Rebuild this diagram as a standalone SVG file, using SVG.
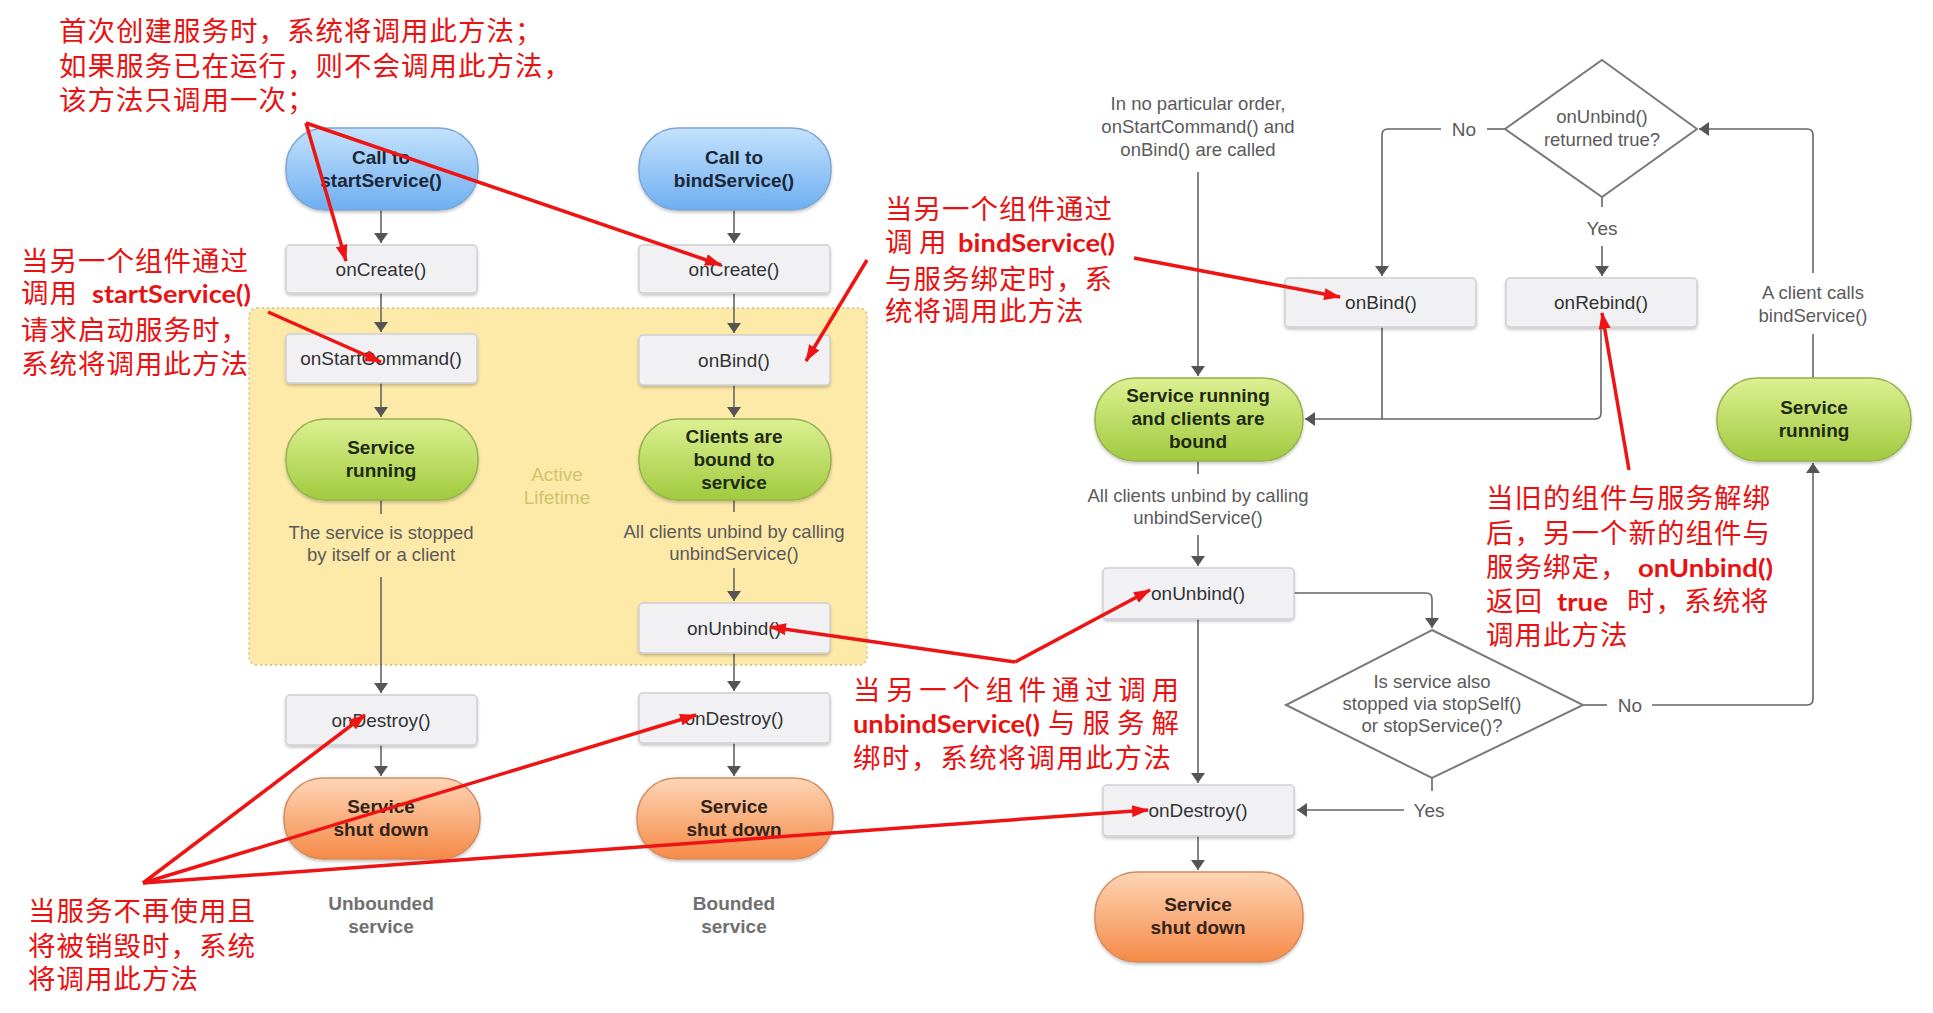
<svg xmlns="http://www.w3.org/2000/svg" width="1933" height="1013" viewBox="0 0 1933 1013">
<defs>
<linearGradient id="gBlue" x1="0" y1="0" x2="0" y2="1"><stop offset="0" stop-color="#c4e2fc"/><stop offset="1" stop-color="#6eaef1"/></linearGradient>
<linearGradient id="gGreen" x1="0" y1="0" x2="0" y2="1"><stop offset="0" stop-color="#ddf092"/><stop offset="1" stop-color="#a0ca3e"/></linearGradient>
<linearGradient id="gOrange" x1="0" y1="0" x2="0" y2="1"><stop offset="0" stop-color="#fed5b6"/><stop offset="1" stop-color="#f58a47"/></linearGradient>
<filter id="sh" x="-10%" y="-15%" width="120%" height="140%"><feDropShadow dx="0" dy="2" stdDeviation="1.5" flood-color="#000" flood-opacity="0.22"/></filter>
<marker id="ga" viewBox="0 0 10 14" refX="10" refY="7" markerWidth="10" markerHeight="14" markerUnits="userSpaceOnUse" orient="auto"><path d="M0,0 L10,7 L0,14 z" fill="#555"/></marker>
<marker id="ra" viewBox="0 0 17 12" refX="16" refY="6" markerWidth="17" markerHeight="12" markerUnits="userSpaceOnUse" orient="auto"><path d="M0,0 L17,6 L0,12 z" fill="#ee1414"/></marker>
</defs>
<style>
.box{fill:#f1f1f3;stroke:#cfcfd3;stroke-width:1.5}
.pill{stroke-width:1.5}
.lbl{font-family:"Liberation Sans",Arial,sans-serif;font-size:19px;fill:#333;text-anchor:middle}
.plbl{font-family:"Liberation Sans",Arial,sans-serif;font-size:19px;font-weight:bold;fill:#1f2a14;text-anchor:middle}
.desc{font-family:"Liberation Sans",Arial,sans-serif;font-size:18.5px;fill:#5a5a5a;text-anchor:middle}
.cap{font-family:"Liberation Sans",Arial,sans-serif;font-size:19px;font-weight:bold;fill:#707070;text-anchor:middle}
.dia{fill:#fff;stroke:#7a7a7a;stroke-width:2}
.ln{fill:none;stroke:#666;stroke-width:1.6}
.rl{fill:none;stroke:#ee1414;stroke-width:3.5}
.rt{font-family:"Noto Sans CJK SC",sans-serif;font-size:27.5px;letter-spacing:1px;fill:#e81212}
.rb{font-family:Lato,"Open Sans",sans-serif;font-weight:bold;font-size:25px;fill:#e81212}
</style>
<rect width="1933" height="1013" fill="#fff"/>

<g id="active-lifetime">
<rect x="249" y="308" width="618" height="357" rx="8" fill="#fde9a8" stroke="#cdbf86" stroke-width="1.5" stroke-dasharray="2 3"/>
<text x="557" y="481" class="desc" style="fill:#cfc46e;font-size:19px">Active</text>
<text x="557" y="504" class="desc" style="fill:#cfc46e;font-size:19px">Lifetime</text>
</g>

<g id="connectors">
<path class="ln" d="M381,210 V243" marker-end="url(#ga)"/>
<path class="ln" d="M381,293 V332" marker-end="url(#ga)"/>
<path class="ln" d="M381,383 V417" marker-end="url(#ga)"/>
<path class="ln" d="M381,500 V514"/>
<path class="ln" d="M381,577 V693" marker-end="url(#ga)"/>
<path class="ln" d="M381,745 V776" marker-end="url(#ga)"/>
<path class="ln" d="M734,210 V243" marker-end="url(#ga)"/>
<path class="ln" d="M734,293 V333" marker-end="url(#ga)"/>
<path class="ln" d="M734,385 V417" marker-end="url(#ga)"/>
<path class="ln" d="M734,500 V512"/>
<path class="ln" d="M734,568 V601" marker-end="url(#ga)"/>
<path class="ln" d="M734,653 V691" marker-end="url(#ga)"/>
<path class="ln" d="M734,743 V776" marker-end="url(#ga)"/>
<path class="ln" d="M1198,172 V376" marker-end="url(#ga)"/>
<path class="ln" d="M1198,461 V474"/>
<path class="ln" d="M1198,535 V566" marker-end="url(#ga)"/>
<path class="ln" d="M1198,619 V783" marker-end="url(#ga)"/>
<path class="ln" d="M1198,836 V870" marker-end="url(#ga)"/>
<path class="ln" d="M1294,593 H1426 Q1432,593 1432,599 V628" marker-end="url(#ga)"/>
<path class="ln" d="M1432,778 V791"/>
<path class="ln" d="M1404,810 H1297" marker-end="url(#ga)"/>
<path class="ln" d="M1583,705 H1607"/>
<path class="ln" d="M1652,705 H1807 Q1813,705 1813,699 V463" marker-end="url(#ga)"/>
<path class="ln" d="M1813,378 V334"/>
<path class="ln" d="M1813,273 V135 Q1813,129 1807,129 H1699" marker-end="url(#ga)"/>
<path class="ln" d="M1505,129 H1487"/>
<path class="ln" d="M1441,129 H1388 Q1382,129 1382,135 V276" marker-end="url(#ga)"/>
<path class="ln" d="M1602,197 V207"/>
<path class="ln" d="M1602,246 V276" marker-end="url(#ga)"/>
<path class="ln" d="M1382,327 V419"/>
<path class="ln" d="M1601,327 V413 Q1601,419 1595,419 H1305" marker-end="url(#ga)"/>
</g>

<g id="n-call-start"><rect class="pill" x="286" y="128" width="192" height="82" rx="39" fill="url(#gBlue)" stroke="#7ea6d4" filter="url(#sh)"/><text class="plbl" x="381" y="164" style="fill:#1b2736">Call to</text><text class="plbl" x="381" y="187" style="fill:#1b2736">startService()</text></g>
<g id="n-oncreate-1"><rect class="box" x="286" y="245" width="191" height="48" rx="4" filter="url(#sh)"/><text class="lbl" x="381" y="276">onCreate()</text></g>
<g id="n-onstartcommand"><rect class="box" x="286" y="334" width="191" height="49" rx="4" filter="url(#sh)"/><text class="lbl" x="381" y="365">onStartCommand()</text></g>
<g id="n-running-1"><rect class="pill" x="286" y="419" width="192" height="81" rx="39" fill="url(#gGreen)" stroke="#93b34f" filter="url(#sh)"/><text class="plbl" x="381" y="454">Service</text><text class="plbl" x="381" y="477">running</text></g>
<g id="t-stopped"><text class="desc" x="381" y="539">The service is stopped</text><text class="desc" x="381" y="561">by itself or a client</text></g>
<g id="n-ondestroy-1"><rect class="box" x="286" y="695" width="191" height="50" rx="4" filter="url(#sh)"/><text class="lbl" x="381" y="727">onDestroy()</text></g>
<g id="n-shut-1"><rect class="pill" x="284" y="778" width="196" height="81" rx="39" fill="url(#gOrange)" stroke="#d68b5f" filter="url(#sh)"/><text class="plbl" x="381" y="813" style="fill:#33231a">Service</text><text class="plbl" x="381" y="836" style="fill:#33231a">shut down</text></g>
<g id="t-unbounded"><text class="cap" x="381" y="910">Unbounded</text><text class="cap" x="381" y="933">service</text></g>

<g id="n-call-bind"><rect class="pill" x="639" y="128" width="192" height="82" rx="39" fill="url(#gBlue)" stroke="#7ea6d4" filter="url(#sh)"/><text class="plbl" x="734" y="164" style="fill:#1b2736">Call to</text><text class="plbl" x="734" y="187" style="fill:#1b2736">bindService()</text></g>
<g id="n-oncreate-2"><rect class="box" x="639" y="245" width="191" height="48" rx="4" filter="url(#sh)"/><text class="lbl" x="734" y="276">onCreate()</text></g>
<g id="n-onbind-1"><rect class="box" x="639" y="335" width="191" height="50" rx="4" filter="url(#sh)"/><text class="lbl" x="734" y="367">onBind()</text></g>
<g id="n-clients-bound"><rect class="pill" x="639" y="419" width="192" height="81" rx="39" fill="url(#gGreen)" stroke="#93b34f" filter="url(#sh)"/><text class="plbl" x="734" y="443">Clients are</text><text class="plbl" x="734" y="466">bound to</text><text class="plbl" x="734" y="489">service</text></g>
<g id="t-unbind-mid"><text class="desc" x="734" y="538">All clients unbind by calling</text><text class="desc" x="734" y="560">unbindService()</text></g>
<g id="n-onunbind-1"><rect class="box" x="639" y="603" width="191" height="50" rx="4" filter="url(#sh)"/><text class="lbl" x="734" y="635">onUnbind()</text></g>
<g id="n-ondestroy-2"><rect class="box" x="639" y="693" width="191" height="50" rx="4" filter="url(#sh)"/><text class="lbl" x="734" y="725">onDestroy()</text></g>
<g id="n-shut-2"><rect class="pill" x="637" y="778" width="196" height="81" rx="39" fill="url(#gOrange)" stroke="#d68b5f" filter="url(#sh)"/><text class="plbl" x="734" y="813" style="fill:#33231a">Service</text><text class="plbl" x="734" y="836" style="fill:#33231a">shut down</text></g>
<g id="t-bounded"><text class="cap" x="734" y="910">Bounded</text><text class="cap" x="734" y="933">service</text></g>

<g id="t-order"><text class="desc" x="1198" y="110">In no particular order,</text><text class="desc" x="1198" y="133">onStartCommand() and</text><text class="desc" x="1198" y="156">onBind() are called</text></g>
<g id="n-running-bound"><rect class="pill" x="1095" y="378" width="208" height="83" rx="40" fill="url(#gGreen)" stroke="#93b34f" filter="url(#sh)"/><text class="plbl" x="1198" y="402">Service running</text><text class="plbl" x="1198" y="425">and clients are</text><text class="plbl" x="1198" y="448">bound</text></g>
<g id="t-unbind-right"><text class="desc" x="1198" y="502">All clients unbind by calling</text><text class="desc" x="1198" y="524">unbindService()</text></g>
<g id="n-onunbind-2"><rect class="box" x="1103" y="568" width="191" height="51" rx="4" filter="url(#sh)"/><text class="lbl" x="1198" y="600">onUnbind()</text></g>
<g id="n-ondestroy-3"><rect class="box" x="1103" y="785" width="191" height="51" rx="4" filter="url(#sh)"/><text class="lbl" x="1198" y="817">onDestroy()</text></g>
<g id="n-shut-3"><rect class="pill" x="1095" y="872" width="208" height="90" rx="42" fill="url(#gOrange)" stroke="#d68b5f" filter="url(#sh)"/><text class="plbl" x="1198" y="911" style="fill:#33231a">Service</text><text class="plbl" x="1198" y="934" style="fill:#33231a">shut down</text></g>
<g id="n-returned-true"><polygon class="dia" points="1602,60 1697,129 1602,197 1505,129"/><text class="desc" x="1602" y="123">onUnbind()</text><text class="desc" x="1602" y="146">returned true?</text></g>
<g id="n-onbind-2"><rect class="box" x="1285" y="278" width="191" height="49" rx="4" filter="url(#sh)"/><text class="lbl" x="1381" y="309">onBind()</text></g>
<g id="n-onrebind"><rect class="box" x="1506" y="278" width="191" height="49" rx="4" filter="url(#sh)"/><text class="lbl" x="1601" y="309">onRebind()</text></g>
<g id="n-running-2"><rect class="pill" x="1717" y="378" width="194" height="83" rx="40" fill="url(#gGreen)" stroke="#93b34f" filter="url(#sh)"/><text class="plbl" x="1814" y="414">Service</text><text class="plbl" x="1814" y="437">running</text></g>
<g id="n-stopped-also"><polygon class="dia" points="1432,630 1583,705 1432,778 1286,705"/><text class="desc" x="1432" y="688">Is service also</text><text class="desc" x="1432" y="710">stopped via stopSelf()</text><text class="desc" x="1432" y="732">or stopService()?</text></g>
<g id="t-branch-labels">
<text class="desc" x="1464" y="136" style="font-size:19px">No</text>
<text class="desc" x="1602" y="235" style="font-size:19px">Yes</text>
<text class="desc" x="1813" y="299">A client calls</text>
<text class="desc" x="1813" y="322">bindService()</text>
<text class="desc" x="1630" y="712" style="font-size:19px">No</text>
<text class="desc" x="1429" y="817" style="font-size:19px">Yes</text>
</g>

<g id="red-arrows">
<path class="rl" d="M306,123 L346,261" marker-end="url(#ra)"/>
<path class="rl" d="M306,123 L721,265" marker-end="url(#ra)"/>
<path class="rl" d="M268,312 L381,362" marker-end="url(#ra)"/>
<path class="rl" d="M867,260 L806,361" marker-end="url(#ra)"/>
<path class="rl" d="M1134,258 L1340,297" marker-end="url(#ra)"/>
<path class="rl" d="M1629,470 L1602,313" marker-end="url(#ra)"/>
<path class="rl" d="M1015,662 L770,627" marker-end="url(#ra)"/>
<path class="rl" d="M1015,662 L1150,590" marker-end="url(#ra)"/>
<path class="rl" d="M143,883 L365,715" marker-end="url(#ra)"/>
<path class="rl" d="M143,883 L696,715" marker-end="url(#ra)"/>
<path class="rl" d="M143,883 L1148,810" marker-end="url(#ra)"/>
</g>

<g id="note-oncreate">
<text class="rt" x="59" y="41">首次创建服务时，系统将调用此方法；</text>
<text class="rt" x="59" y="76">如果服务已在运行，则不会调用此方法，</text>
<text class="rt" x="59" y="110">该方法只调用一次；</text>
</g>
<g id="note-onstartcommand">
<text class="rt" x="21" y="271">当另一个组件通过</text>
<text class="rt" x="21" y="303">调用</text><text class="rb" x="92" y="303" textLength="159" lengthAdjust="spacingAndGlyphs">startService()</text>
<text class="rt" x="21" y="340">请求启动服务时，</text>
<text class="rt" x="21" y="374">系统将调用此方法</text>
</g>
<g id="note-onbind">
<text class="rt" x="885" y="219">当另一个组件通过</text>
<text class="rt" x="885" y="252">调</text><text class="rt" x="919" y="252">用</text><text class="rb" x="958" y="252" textLength="157" lengthAdjust="spacingAndGlyphs">bindService()</text>
<text class="rt" x="885" y="289">与服务绑定时，系</text>
<text class="rt" x="885" y="321">统将调用此方法</text>
</g>
<g id="note-onrebind">
<text class="rt" x="1486" y="508">当旧的组件与服务解绑</text>
<text class="rt" x="1486" y="543">后，另一个新的组件与</text>
<text class="rt" x="1486" y="577">服务绑定，</text><text class="rb" x="1638" y="577" textLength="135" lengthAdjust="spacingAndGlyphs">onUnbind()</text>
<text class="rt" x="1486" y="611">返回</text><text class="rb" x="1557" y="611" textLength="51" lengthAdjust="spacingAndGlyphs">true</text><text class="rt" x="1627" y="611">时，系统将</text>
<text class="rt" x="1486" y="645">调用此方法</text>
</g>
<g id="note-onunbind">
<text class="rt" x="853" y="700" textLength="327" lengthAdjust="spacing">当另一个组件通过调用</text>
<text class="rb" x="853" y="733" textLength="187" lengthAdjust="spacingAndGlyphs">unbindService()</text><text class="rt" x="1048" y="733" textLength="132" lengthAdjust="spacing">与服务解</text>
<text class="rt" x="853" y="768" textLength="319" lengthAdjust="spacing">绑时，系统将调用此方法</text>
</g>
<g id="note-ondestroy">
<text class="rt" x="28" y="921">当服务不再使用且</text>
<text class="rt" x="28" y="956">将被销毁时，系统</text>
<text class="rt" x="28" y="989">将调用此方法</text>
</g>
</svg>
